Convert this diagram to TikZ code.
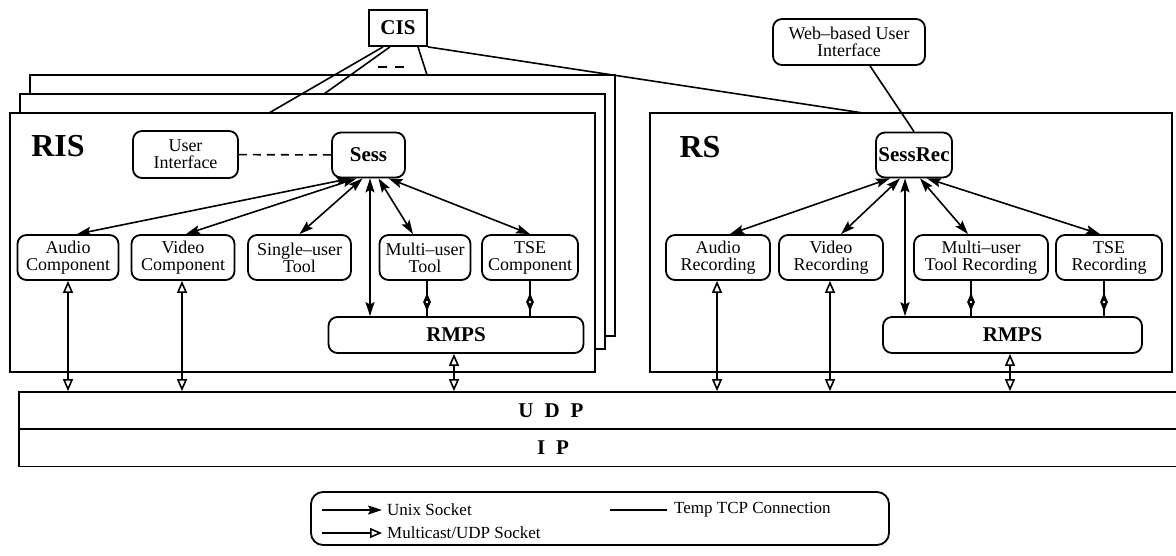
\documentclass[tikz,border=0pt]{standalone}
\usepackage{fontspec}
\setmainfont{Liberation Serif}
\usepackage{tikz}
\usetikzlibrary{calc}
\usetikzlibrary{arrows.meta}

\newcommand{\compfont}{\fontsize{18}{17}\selectfont}
\newcommand{\namefont}{\fontsize{21}{21}\selectfont\bfseries}
\newcommand{\bigfont}{\fontsize{32}{32}\selectfont\bfseries}
\newcommand{\legfont}{\fontsize{17}{17}\selectfont}

\tikzset{
    comp/.style={draw, line width=1.8pt, rounded corners=9pt, align=center, inner sep=0pt, font=\compfont, minimum height=45pt},
    srv/.style={comp, font=\namefont},
    layer/.style={draw, line width=1.8pt, inner sep=0pt, minimum height=37pt, minimum width=1160pt},
    stackbox/.style={draw, fill=white, line width=1.8pt},
    tcp/.style={line width=1.6pt},
    unix/.style={tcp, {Stealth[length=14pt,width=9pt,inset=2.5pt]}-{Stealth[length=14pt,width=9pt,inset=2.5pt]}},
    mcast/.style={tcp, {Triangle[open,length=12pt,width=10pt]}-{Triangle[open,length=12pt,width=10pt]}},
    halfarrow/.style={tcp, -{Latex[length=11pt,width=8pt]}},
}

\begin{document}
\begin{tikzpicture}[x=1pt,y=-1pt]
        \useasboundingbox (0,0) rectangle (1176,555);

        % stack of RIS boxes and the RS box
        \draw[stackbox] (30,75) rectangle (615,336);
        \draw[stackbox] (20,94) rectangle (605,349);
        \draw[stackbox] (10,113) rectangle (595,372);
        \draw[stackbox] (650,113) rectangle (1172,372);

        % CIS and its connections
        \node[draw, line width=1.8pt, inner sep=0pt, minimum width=58pt, minimum height=36pt, font=\namefont] (cis) at (398,28) {CIS};
        \coordinate (risa) at (269,113);
        \coordinate (risb) at (324,94);
        \coordinate (risc) at (427,75);
        \coordinate (rstop) at (863,113);
        \draw[tcp] ([xshift=-15pt]cis.south) -- (risa);
        \draw[tcp] ([xshift=-8pt]cis.south) -- (risb);
        \draw[tcp] ([xshift=20pt]cis.south) -- (risc);
        \draw[tcp] (cis.south east) -- (rstop);
        \draw[tcp, dash pattern=on 9pt off 8pt] (378,67) -- (404,67);

        % RIS
        \node[font=\bigfont] (rislbl) at (58,146) {RIS};
        \node[comp, minimum width=105pt, minimum height=47pt] (ui) at (185.5,154.5) {User\\Interface};
        \node[srv, minimum width=73pt] (sess) at (368.5,155) {Sess};
        \node[comp, minimum width=101pt] (audio) at (68,257.5) {Audio\\Component};
        \node[comp, minimum width=103pt] (video) at (183,257.5) {Video\\Component};
        \node[comp, minimum width=103pt] (single) at (299.5,257.5) {Single--user\\Tool};
        \node[comp, minimum width=91pt] (multi) at (425,257.5) {Multi--user\\Tool};
        \node[comp, minimum width=96pt] (tse) at (530,257.5) {TSE\\Component};
        \node[srv, minimum width=255pt, minimum height=36pt] (rmps) at (456,335) {RMPS};

        \draw[tcp, dash pattern=on 8pt off 6pt] (ui) -- (sess);
        \draw[unix] ([xshift=-18pt]sess.south) -- ([xshift=9pt]audio.north);
        \draw[unix] ([xshift=-12pt]sess.south) -- ([xshift=3pt]video.north);
        \draw[unix] ([xshift=-6pt]sess.south) -- (single.north);
        \draw[unix] ([xshift=1.5pt]sess.south) -- ([xshift=1.5pt]sess.south |- rmps.north);
        \draw[unix] ([xshift=10pt]sess.south) -- ([xshift=-12pt]multi.north);
        \draw[unix] ([xshift=20pt]sess.south) -- (tse.north);
        \draw[tcp] ([xshift=2pt]multi.south) -- ([xshift=2pt]multi.south |- rmps.north);
        \draw[tcp] (tse.south) -- (tse.south |- rmps.north);
        \coordinate (mida) at ($([xshift=2pt]multi.south)!0.6!([xshift=2pt]multi.south |- rmps.north)$);
        \coordinate (midb) at ($(tse.south)!0.6!(tse.south |- rmps.north)$);

        % RS
        \node[font=\bigfont] (rslbl) at (700,147) {RS};
        \node[comp, minimum width=152pt, minimum height=46pt] (webui) at (849,42) {Web--based User\\Interface};
        \node[srv, minimum width=76pt] (sessrec) at (914,155) {SessRec};
        \node[comp, minimum width=104pt] (arec) at (718,257.5) {Audio\\Recording};
        \node[comp, minimum width=104pt] (vrec) at (831,257.5) {Video\\Recording};
        \node[comp, minimum width=134pt] (mrec) at (981,257.5) {Multi--user\\Tool Recording};
        \node[comp, minimum width=106pt] (trec) at (1109,257.5) {TSE\\Recording};
        \node[srv, minimum width=259pt, minimum height=36pt] (rmpsr) at (1012.5,335) {RMPS};

        \draw[tcp] ([xshift=21pt]webui.south) -- (sessrec.north);
        \draw[unix] ([xshift=-24pt]sessrec.south) -- ([xshift=12pt]arec.north);
        \draw[unix] ([xshift=-14pt]sessrec.south) -- ([xshift=10pt]vrec.north);
        \draw[unix] ([xshift=-9pt]sessrec.south) -- ([xshift=-9pt]sessrec.south |- rmpsr.north);
        \draw[unix] ([xshift=6pt]sessrec.south) -- ([xshift=-13pt]mrec.north);
        \draw[unix] ([xshift=13pt]sessrec.south) -- ([xshift=-9pt]trec.north);
        \draw[tcp] ([xshift=-10pt]mrec.south) -- ([xshift=-10pt]mrec.south |- rmpsr.north);
        \draw[tcp] ([xshift=-5pt]trec.south) -- ([xshift=-5pt]trec.south |- rmpsr.north);
        \coordinate (midc) at ($([xshift=-10pt]mrec.south)!0.6!([xshift=-10pt]mrec.south |- rmpsr.north)$);
        \coordinate (midd) at ($([xshift=-5pt]trec.south)!0.6!([xshift=-5pt]trec.south |- rmpsr.north)$);

        % double heads between tools and RMPS
        \foreach \m in {mida,midb,midc,midd} {
            \draw[halfarrow] (\m) -- ++(0,-11);
            \draw[halfarrow] (\m) -- ++(0,11);
            \fill[white] (\m) circle (1.3pt);
        }

        % UDP and IP
        \node[layer] (udp) at (599,410.5) {};
        \node[layer] (ip) at (599,448) {};
        \node[font=\namefont] (udplbl) at (551,411) {U\hspace{11pt}D\hspace{11pt}P};
        \node[font=\namefont] (iplbl) at (553,448) {I\hspace{11pt}P};

        \draw[mcast] (audio.south) -- (audio.south |- udp.north);
        \draw[mcast] ([xshift=-1pt]video.south) -- ([xshift=-1pt]video.south |- udp.north);
        \draw[mcast] ([xshift=-2pt]rmps.south) -- ([xshift=-2pt]rmps.south |- udp.north);
        \draw[mcast] ([xshift=-1pt]arec.south) -- ([xshift=-1pt]arec.south |- udp.north);
        \draw[mcast] ([xshift=-1pt]vrec.south) -- ([xshift=-1pt]vrec.south |- udp.north);
        \draw[mcast] ([xshift=-2.5pt]rmpsr.south) -- ([xshift=-2.5pt]rmpsr.south |- udp.north);

        % legend
        \node[draw, line width=1.8pt, rounded corners=12pt, minimum width=578pt, minimum height=53pt] (legend) at (600,518.5) {};
        \node[anchor=west, font=\legfont, inner sep=0pt] (unixlbl) at (387,510) {Unix Socket};
        \node[anchor=west, font=\legfont, inner sep=0pt] (mcastlbl) at (387,533) {Multicast/UDP Socket};
        \node[anchor=west, font=\legfont, inner sep=0pt] (tcplbl) at (674,510) {Temp TCP Connection};
        \coordinate (unixend) at (322,510);
        \coordinate (mcastend) at (322,533);
        \coordinate (tcpend) at (610,510);
        \draw[tcp, -{Stealth[length=14pt,width=9pt,inset=2.5pt]}] (unixend) -- ([xshift=-5pt]unixlbl.west);
        \draw[tcp, -{Triangle[open,length=12pt,width=10pt]}] (mcastend) -- ([xshift=-5pt]mcastlbl.west);
        \draw[tcp] (tcpend) -- ([xshift=-7pt]tcplbl.west);
\end{tikzpicture}
\end{document}
